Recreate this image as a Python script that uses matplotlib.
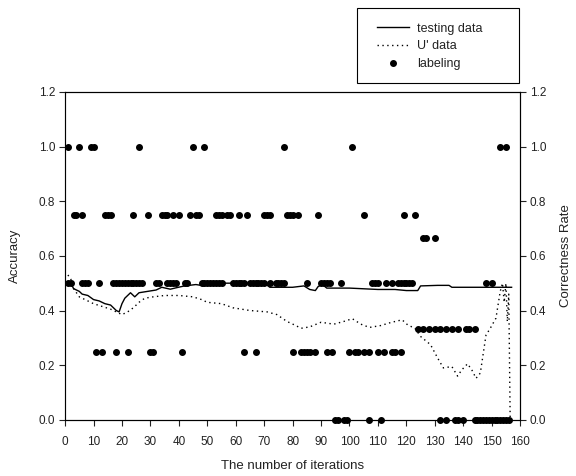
"""Accuracy / correctness rate over the iterations."""

import matplotlib
matplotlib.use("Agg")
import matplotlib.pyplot as plt
from matplotlib.patches import Rectangle

plt.rcParams["font.family"] = ["Liberation Sans", "DejaVu Sans"]

# testing data (solid line)
test_x = [1, 2, 3, 5, 6, 8, 10, 12, 14, 16, 18, 19, 20, 21, 23, 24.5, 26, 29, 32,
          34, 37, 39, 42, 46, 49, 51, 55, 60, 65, 70, 72, 75, 80, 84, 86, 88, 89,
          90.5, 92, 100, 110, 116, 120, 124, 125, 131, 135, 136, 145, 157]
test_y = [0.50, 0.50, 0.48, 0.47, 0.46, 0.455, 0.44, 0.435, 0.425, 0.42, 0.40,
          0.395, 0.425, 0.445, 0.465, 0.45, 0.465, 0.47, 0.475, 0.485, 0.478,
          0.483, 0.49, 0.495, 0.49, 0.50, 0.50, 0.50, 0.50, 0.50, 0.485, 0.485,
          0.485, 0.49, 0.477, 0.473, 0.488, 0.495, 0.482, 0.482, 0.477, 0.477,
          0.473, 0.473, 0.49, 0.492, 0.492, 0.485, 0.485, 0.485]

# U' data (dotted line)
u_x = [1, 2, 3, 5, 7, 10, 13, 16, 19, 20, 22, 24, 26, 28, 31, 35, 40, 45, 48, 50,
       55, 59, 65, 71, 74.5, 78, 80.5, 83, 86, 90, 94.5, 98, 101, 104, 107, 111,
       114.5, 118.5, 120.5, 123, 125, 128.5, 131, 133, 136, 138, 139.5, 141.5,
       143, 144.5, 146, 148, 149.5, 151.5, 153, 153.8, 154.4, 155, 155.5, 156,
       156.5, 157]
u_y = [0.53, 0.515, 0.48, 0.45, 0.44, 0.425, 0.415, 0.405, 0.39, 0.385, 0.395,
       0.41, 0.43, 0.445, 0.45, 0.455, 0.455, 0.45, 0.44, 0.43, 0.425, 0.41, 0.40,
       0.395, 0.385, 0.36, 0.348, 0.335, 0.34, 0.357, 0.35, 0.36, 0.37, 0.35,
       0.338, 0.345, 0.356, 0.366, 0.347, 0.335, 0.305, 0.275, 0.226, 0.19,
       0.195, 0.16, 0.183, 0.205, 0.183, 0.152, 0.171, 0.31, 0.335, 0.372, 0.47,
       0.5, 0.43, 0.5, 0.36, 0.46, 0.0, 0.0]

# labeling (dots), iterations per level
lab_100 = [1, 5, 9, 10, 26, 45, 49, 77, 101, 153, 155]
lab_075 = [3, 4, 6, 14, 15, 16, 24, 29, 34, 35, 36, 38, 40, 44, 46, 47, 53, 54,
           55, 57, 58, 61, 64, 70, 71, 72, 78, 79, 80, 82, 89, 105, 119, 123]
lab_067 = [126, 127, 130]
lab_050 = [1, 2, 6, 7, 8, 12, 17, 18, 19, 20, 21, 22, 23, 24, 25, 26, 27, 32, 33,
           36, 37, 38, 39, 42, 43, 48, 49, 50, 51, 52, 53, 54, 55, 59, 60, 61, 62,
           63, 65, 66, 67, 68, 69, 70, 72, 74, 75, 76, 77, 85, 90, 91, 92, 93, 97,
           108, 109, 110, 113, 115, 117, 118, 119, 120, 121, 122, 148, 150]
lab_033 = [124, 126, 128, 130, 132, 134, 136, 138, 141, 142, 144]
lab_025 = [11, 13, 18, 22, 30, 31, 41, 63, 67, 80, 83, 84, 85, 86, 88, 92, 94,
           100, 102, 103, 105, 107, 110, 112, 115, 116, 118]
lab_000 = [95, 96, 98, 99, 107, 111, 132, 134, 137, 138, 140, 144, 145, 146, 147,
           148, 149, 150, 151, 152, 153, 154, 155, 156]

levels = [1.0, 0.75, 2 / 3, 0.5, 1 / 3, 0.25, 0.0]
groups = [lab_100, lab_075, lab_067, lab_050, lab_033, lab_025, lab_000]

lab_x = []
lab_y = []
for lvl, its in zip(levels, groups):
    lab_x += its
    lab_y += [lvl] * len(its)

x_ticks = list(range(0, 161, 10))
y_ticks = [0.0, 0.2, 0.4, 0.6, 0.8, 1.0, 1.2]

TXT = "#222222"

fig = plt.figure(figsize=(5.76, 4.76), dpi=100)
ax = fig.add_axes([0.113, 0.118, 0.79, 0.689])

l1, = ax.plot(test_x, test_y, "-", color="black", lw=1.0, label="testing data")
l2, = ax.plot(u_x, u_y, color="black", lw=1.0, linestyle=(0, (1, 2.5)),
              label="U' data")
l3, = ax.plot(lab_x, lab_y, "o", color="black", ms=4.0, clip_on=False,
              label="labeling")

ax.set_xlim(0, 160)
ax.set_ylim(0, 1.2)
ax.set_xticks(x_ticks)
ax.set_yticks(y_ticks)
ax.set_yticklabels(["%.1f" % v for v in y_ticks])
ax.tick_params(direction="out", length=4, width=0.8, labelsize=8.5,
               colors=TXT, pad=3)
ax.tick_params(axis="x", pad=8)
ax.spines["left"].set_color("#777777")
for s in ["top", "right", "bottom"]:
    ax.spines[s].set_color("black")
ax.set_xlabel("The number of iterations", fontsize=9.5, color=TXT, labelpad=8)
ax.set_ylabel("Accuracy", fontsize=9.5, color=TXT, labelpad=13)

ax2 = ax.twinx()
ax2.set_ylim(0, 1.2)
ax2.set_yticks(y_ticks)
ax2.set_yticklabels(["%.1f" % v for v in y_ticks])
ax2.tick_params(direction="out", length=4, width=0.8, labelsize=8.5,
                colors=TXT, pad=3)
ax2.set_ylabel("Correctness Rate", fontsize=9.5, color=TXT, labelpad=10)

# legend box drawn by hand, entries placed inside it
fig.patches.append(Rectangle((0.620, 0.826), 0.281, 0.158,
                             transform=fig.transFigure, fill=False,
                             edgecolor="black", lw=0.8))
leg = fig.legend(handles=[l1, l2, l3], loc="upper left",
                 bbox_to_anchor=(0.654, 0.952), borderaxespad=0, borderpad=0,
                 fontsize=9, frameon=False, handlelength=2.6,
                 handletextpad=0.65, labelspacing=0.45, numpoints=1)
for t in leg.get_texts():
    t.set_color(TXT)

fig.savefig("out.png", dpi=100)
